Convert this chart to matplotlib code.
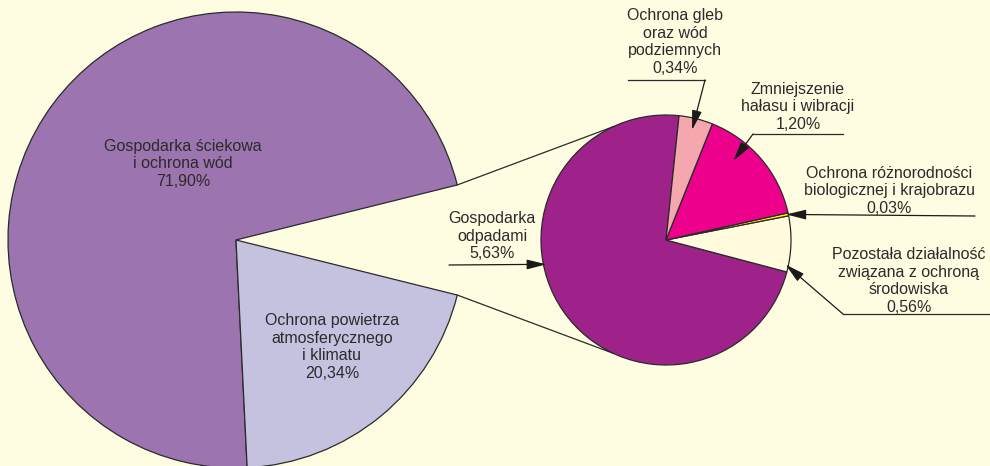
import numpy as np
import matplotlib
matplotlib.use('Agg')
import matplotlib.pyplot as plt

plt.rcParams['font.family'] = ['Liberation Sans', 'DejaVu Sans']

# main pie: the remaining share is exploded into the small pie
main_labels = ['Gospodarka ściekowa\ni ochrona wód', 'Ochrona powietrza\natmosferycznego\ni klimatu']
main_values = [71.90, 20.34]
main_colors = ['#9c74b0', '#c5c2e0']

# breakdown of the rest
sub_labels = ['Gospodarka\nodpadami', 'Pozostała działalność\nzwiązana z ochroną\nśrodowiska',
              'Ochrona różnorodności\nbiologicznej i krajobrazu', 'Zmniejszenie\nhałasu i wibracji',
              'Ochrona gleb\noraz wód\npodziemnych']
sub_values = [5.63, 0.56, 0.03, 1.20, 0.34]
sub_colors = ['#9e228a', '#fffbdc', '#fff200', '#ec008c', '#f4a7ae']

bg = '#fffde1'
txt = '#2b2b2b'
edge = '#2a2a2a'

def pct(v):
    return f'{v:.2f}%'.replace('.', ',')

W, H = 990, 466
fig = plt.figure(figsize=(W / 100, H / 100), dpi=100, facecolor=bg)
ax = fig.add_axes([0, 0, 1, 1])
ax.set_facecolor(bg)

rest = sum(sub_values)
big_c = (236, H - 240)
big_r = 228
small_c = (666, H - 240)
small_r = 125

vals = [rest] + main_values
wedges, _ = ax.pie(vals, colors=['none'] + main_colors, startangle=-rest * 3.6 / 2,
                   center=big_c, radius=big_r,
                   wedgeprops=dict(edgecolor=edge, linewidth=0.9))
wedges[0].set_edgecolor('none')

sw, _ = ax.pie(sub_values, colors=sub_colors, startangle=84, center=small_c, radius=small_r,
               wedgeprops=dict(edgecolor=edge, linewidth=0.9))

def pt(c, r, ang):
    a = np.deg2rad(ang)
    return (c[0] + r * np.cos(a), c[1] + r * np.sin(a))

# connector lines between the pies
g = wedges[0]
for a_big, a_small in [(g.theta2, 115), (g.theta1, -115)]:
    p1 = pt(big_c, big_r, a_big)
    p2 = pt(small_c, small_r, a_small)
    ax.plot([p1[0], p2[0]], [p1[1], p2[1]], color=edge, lw=0.9)

fs = 11.5
ls = 1.2
ax.text(183, H - 164, main_labels[0] + '\n' + pct(main_values[0]), ha='center', va='center',
        fontsize=fs, color=txt, linespacing=ls)
ax.text(332, H - 347, main_labels[1] + '\n' + pct(main_values[1]), ha='center', va='center',
        fontsize=fs, color=txt, linespacing=ls)

arrow = dict(arrowstyle='-|>,head_length=1.0,head_width=0.25', color='#1a1a1a', lw=0.9,
             shrinkA=0, shrinkB=0, mutation_scale=12)

# (label centre, underline x-range and y, elbow, tip angle, tip radius)
ann = [
    ((492, 236), (449, 449), 265, (449, 265), 191.5, 122),
    ((909, 281), (990, 843), 314, (843, 314), -11.6, 122),
    ((889, 191), (975, 975), 216, (975, 216), 12.0, 123),
    ((798, 107), (843, 753), 134, (753, 134), 49.6, 104),
    ((675, 42), (628, 705), 80, (705, 80), 76.7, 113),
]
for i, (lc, ux, uy, el, ta, tr) in enumerate(ann):
    ax.text(lc[0], H - lc[1], sub_labels[i] + '\n' + pct(sub_values[i]), ha='center', va='center',
            fontsize=fs, color=txt, linespacing=ls)
    if ux[0] != ux[1]:
        ax.plot(ux, [H - uy, H - uy], color=edge, lw=0.9)
    tip = pt(small_c, tr, ta)
    ax.annotate('', xy=tip, xytext=(el[0], H - el[1]), arrowprops=arrow)

ax.set_xlim(0, W)
ax.set_ylim(0, H)
ax.set_aspect('equal')
ax.axis('off')

fig.savefig('out.png', dpi=100, facecolor=bg)
